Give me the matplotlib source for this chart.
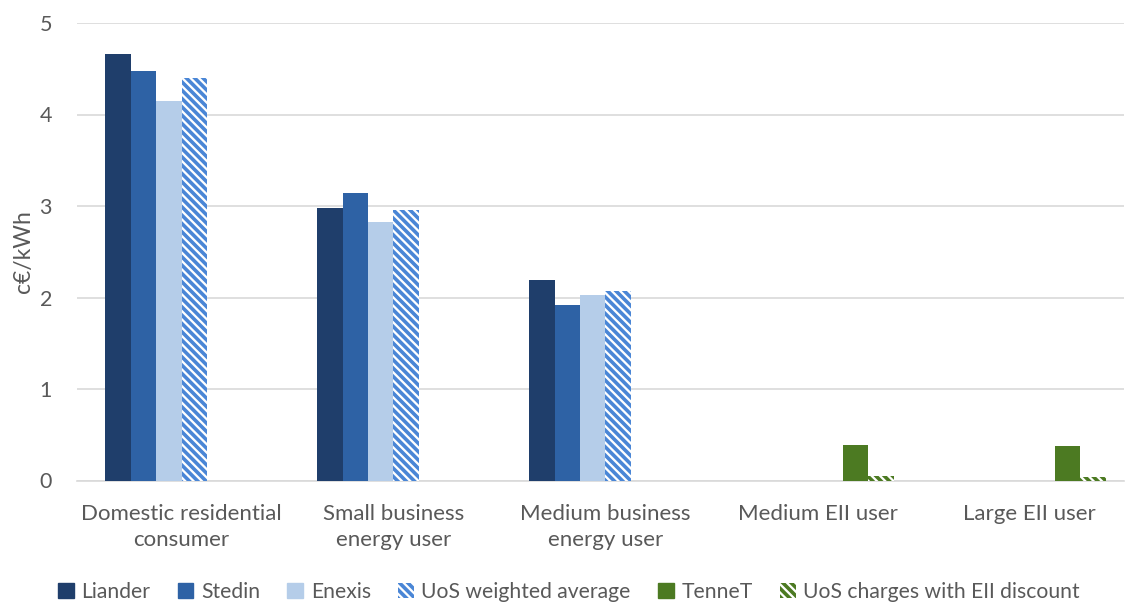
import matplotlib
matplotlib.use("Agg")
import matplotlib.pyplot as plt
import numpy as np
from matplotlib.patches import Patch

categories = ["Domestic residential\nconsumer", "Small business\nenergy user",
              "Medium business\nenergy user", "Medium EII user", "Large EII user"]
liander = [4.66, 2.98, 2.19, 0, 0]
stedin = [4.48, 3.14, 1.92, 0, 0]
enexis = [4.15, 2.83, 2.03, 0, 0]
uos_avg = [4.40, 2.96, 2.07, 0, 0]
tennet = [0, 0, 0, 0.39, 0.38]
uos_eii = [0, 0, 0, 0.05, 0.04]
yticks = [0, 1, 2, 3, 4, 5]

plt.rcParams['font.family'] = ['Lato', 'DejaVu Sans']
plt.rcParams['hatch.linewidth'] = 2.6

W, H = 1125, 606
fig = plt.figure(figsize=(W / 100, H / 100), dpi=100)
ax = fig.add_axes([77 / W, (H - 480.5) / H, (1124 - 77) / W, (480.5 - 23) / H])

txt = '#595959'
grid = '#D9D9D9'
c_liander = '#1F3E6B'
c_stedin = '#2E62A5'
c_enexis = '#B5CDE9'
c_uos = '#4A86D6'
c_tennet = '#4C7A22'

x = np.arange(len(categories))
bw = 0.12
hatch = '\\\\\\\\'
series = [
    ("Liander", liander, dict(color=c_liander)),
    ("Stedin", stedin, dict(color=c_stedin)),
    ("Enexis", enexis, dict(color=c_enexis)),
    ("UoS weighted average", uos_avg, dict(facecolor='white', edgecolor=c_uos, hatch=hatch, linewidth=0)),
    ("TenneT", tennet, dict(color=c_tennet)),
    ("UoS charges with EII discount", uos_eii, dict(facecolor='white', edgecolor=c_tennet, hatch=hatch, linewidth=0)),
]
handles = []
for i, (name, vals, style) in enumerate(series):
    ax.bar(x + (i - 2.5) * bw, vals, width=bw, zorder=3, **style)
    handles.append(Patch(label=name, **style))

ax.set_xlim(-0.493, 4.446)
ax.set_ylim(0, 5)
ax.set_yticks(yticks)
ax.set_yticklabels([str(t) for t in yticks])
ax.set_xticks(x)
ax.set_xticklabels(categories, fontsize=16, color=txt, linespacing=1.35)
ax.tick_params(axis='y', length=0, labelsize=15.5, labelcolor=txt, pad=18)
ax.tick_params(axis='x', length=0, pad=17)
ax.grid(axis='y', color=grid, linewidth=1.2, zorder=0)
for s in ['top', 'right', 'left']:
    ax.spines[s].set_visible(False)
ax.spines['bottom'].set_color(grid)
ax.spines['bottom'].set_linewidth(1.2)

ax.set_ylabel("c€/kWh", fontsize=16.5, color=txt, labelpad=4)

leg = fig.legend(handles=handles, loc='center', bbox_to_anchor=(569 / W, 1 - 592 / H),
                 ncol=6, frameon=False, fontsize=15.2, handlelength=0.75, handleheight=0.75,
                 handletextpad=0.35, columnspacing=1.3)
for t in leg.get_texts():
    t.set_color(txt)

fig.savefig("out.png", dpi=100)
